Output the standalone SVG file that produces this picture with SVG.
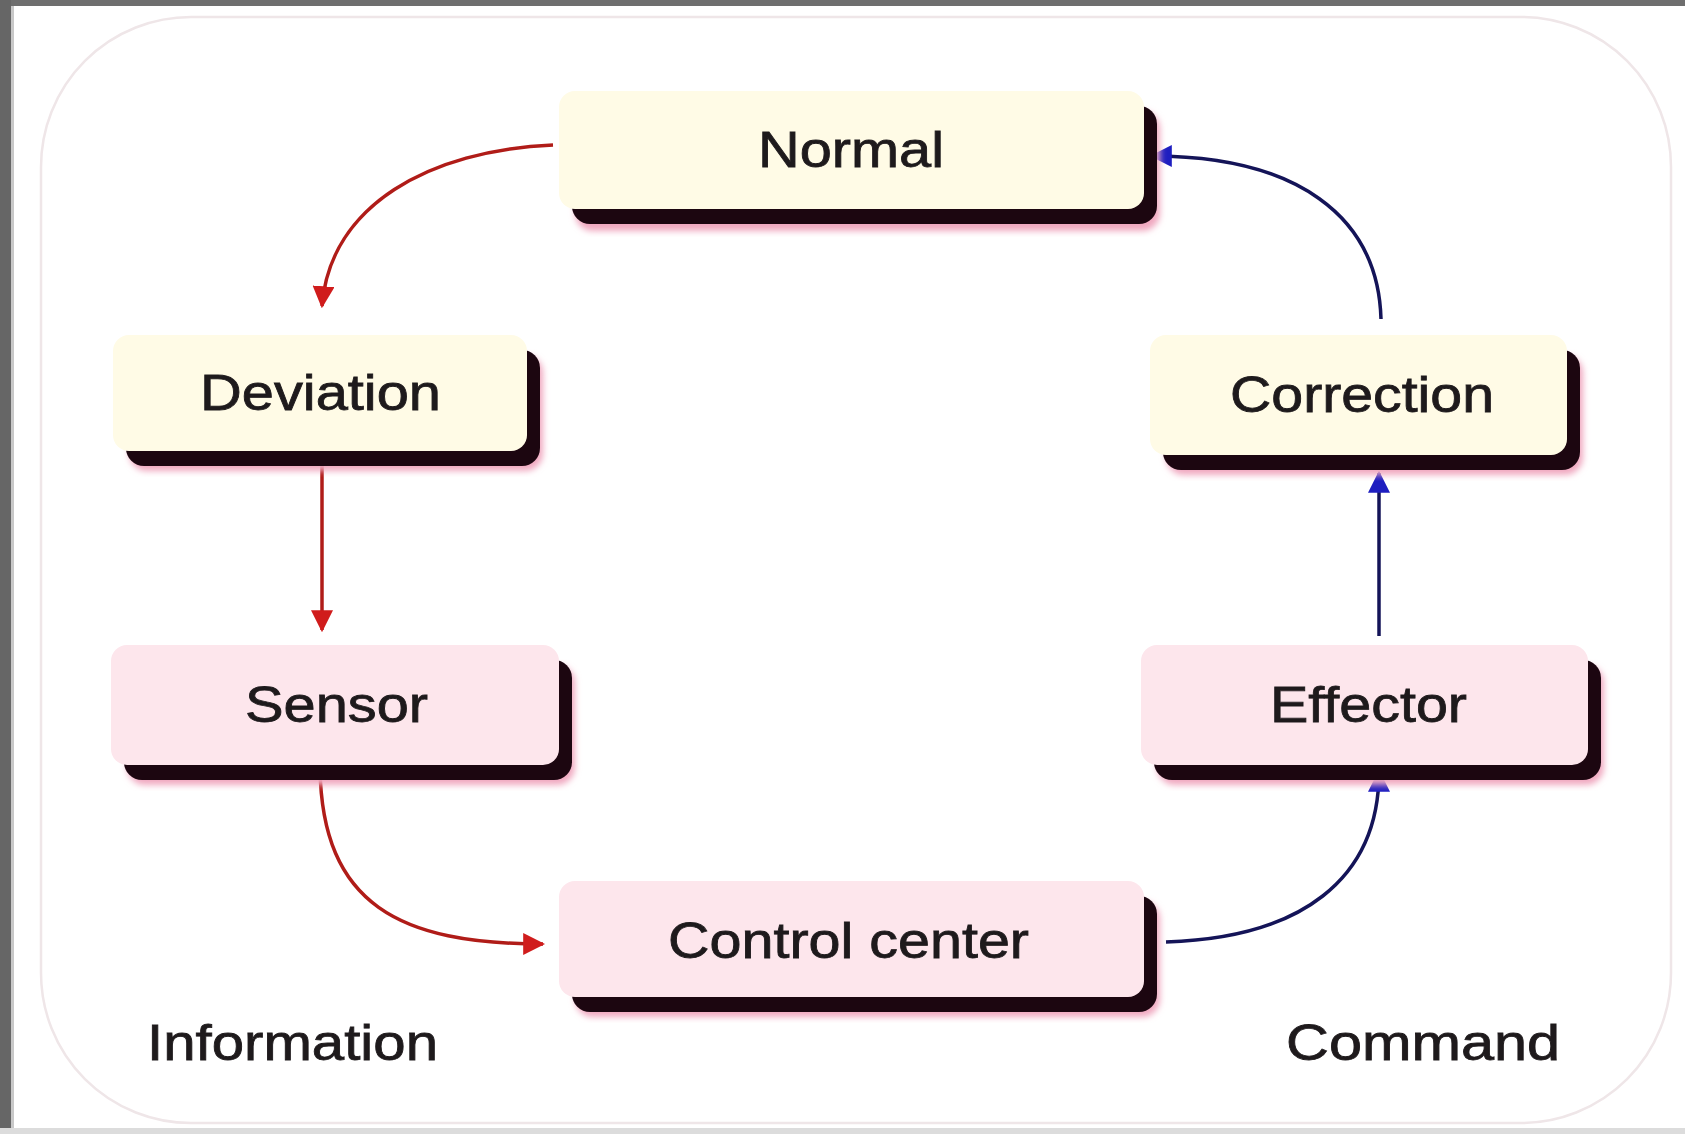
<svg xmlns="http://www.w3.org/2000/svg" width="1685" height="1134" viewBox="0 0 1685 1134">
<style>
.lbl{font-family:"Liberation Sans",Arial,sans-serif;font-size:50px;fill:#1e1a1c;stroke:#1e1a1c;stroke-width:0.8;text-anchor:start}
.cream{fill:#fffbe6}
.pink{fill:#fde6ec}
.sh{fill:#1c0610}
.sh2{fill:#f0a8c0}
.red{fill:none;stroke:#b01c18;stroke-width:3.5}
.blue{fill:none;stroke:#141458;stroke-width:3.5}
</style>
<defs>
<filter id="blur" x="-5%" y="-5%" width="110%" height="110%"><feGaussianBlur stdDeviation="3"/></filter>
<marker id="ar" markerUnits="userSpaceOnUse" markerWidth="22" markerHeight="22" viewBox="0 0 10 10" refX="9" refY="5" orient="auto"><path d="M0,0 L10,5 L0,10 z" fill="#d01c1c"/></marker>
<marker id="ab" markerUnits="userSpaceOnUse" markerWidth="22" markerHeight="22" viewBox="0 0 10 10" refX="9" refY="5" orient="auto"><path d="M0,0 L10,5 L0,10 z" fill="#1e1ec0"/></marker>
</defs>
<rect width="1685" height="1134" fill="#ffffff"/>
<rect x="0" y="0" width="1685" height="6" fill="#6e6e6e"/>
<rect x="0" y="0" width="11" height="1134" fill="#666666"/>
<rect x="11" y="6" width="3" height="1128" fill="#c8c8c8"/>
<rect x="0" y="1128" width="1685" height="6" fill="#dcdcdc"/>
<rect x="41" y="17" width="1630" height="1106" rx="150" ry="150" fill="none" stroke="#efe6e8" stroke-width="2.5"/>

<g id="connectors">
<path class="red" d="M553,145 C 430,150 330,205 322,306" marker-end="url(#ar)"/>
<path class="red" d="M322,457 L322,630" marker-end="url(#ar)"/>
<path class="red" d="M320,768 C 322,905 400,944 543,944" marker-end="url(#ar)"/>
<path class="blue" d="M1166,942 C 1300,938 1379,880 1379,772" marker-end="url(#ab)"/>
<path class="blue" d="M1379,636 L1379,473" marker-end="url(#ab)"/>
<path class="blue" d="M1381,319 C 1378,215 1295,156 1152,156" marker-end="url(#ab)"/>
</g>

<g id="normal">
<rect class="sh2" x="575" y="111" width="585" height="120" rx="18" filter="url(#blur)"/>
<rect class="sh" x="572" y="106" width="585" height="118" rx="18"/>
<rect class="cream" x="559" y="91" width="585" height="118" rx="16"/>
<text class="lbl" x="758" y="167" textLength="186" lengthAdjust="spacingAndGlyphs">Normal</text>
</g>

<g id="deviation">
<rect class="sh2" x="129" y="355" width="414" height="116" rx="18" filter="url(#blur)"/>
<rect class="sh" x="126" y="350" width="414" height="116" rx="18"/>
<rect class="cream" x="113" y="335" width="414" height="116" rx="16"/>
<text class="lbl" x="200" y="410" textLength="241" lengthAdjust="spacingAndGlyphs">Deviation</text>
</g>

<g id="correction">
<rect class="sh2" x="1166" y="355" width="417" height="120" rx="18" filter="url(#blur)"/>
<rect class="sh" x="1163" y="350" width="417" height="120" rx="18"/>
<rect class="cream" x="1150" y="335" width="417" height="120" rx="16"/>
<text class="lbl" x="1230" y="412" textLength="264" lengthAdjust="spacingAndGlyphs">Correction</text>
</g>

<g id="sensor">
<rect class="sh2" x="127" y="665" width="448" height="120" rx="18" filter="url(#blur)"/>
<rect class="sh" x="124" y="660" width="448" height="120" rx="18"/>
<rect class="pink" x="111" y="645" width="448" height="120" rx="16"/>
<text class="lbl" x="245" y="722" textLength="183" lengthAdjust="spacingAndGlyphs">Sensor</text>
</g>

<g id="effector">
<rect class="sh2" x="1157" y="665" width="447" height="120" rx="18" filter="url(#blur)"/>
<rect class="sh" x="1154" y="660" width="447" height="120" rx="18"/>
<rect class="pink" x="1141" y="645" width="447" height="120" rx="16"/>
<text class="lbl" x="1270" y="722" textLength="197" lengthAdjust="spacingAndGlyphs">Effector</text>
</g>

<g id="control-center">
<rect class="sh2" x="575" y="901" width="585" height="116" rx="18" filter="url(#blur)"/>
<rect class="sh" x="572" y="896" width="585" height="116" rx="18"/>
<rect class="pink" x="559" y="881" width="585" height="116" rx="16"/>
<text class="lbl" x="668" y="958" textLength="361" lengthAdjust="spacingAndGlyphs">Control center</text>
</g>

<g id="labels">
<text class="lbl" x="147" y="1060" textLength="291" lengthAdjust="spacingAndGlyphs">Information</text>
<text class="lbl" x="1286" y="1060" textLength="274" lengthAdjust="spacingAndGlyphs">Command</text>
</g>
</svg>
